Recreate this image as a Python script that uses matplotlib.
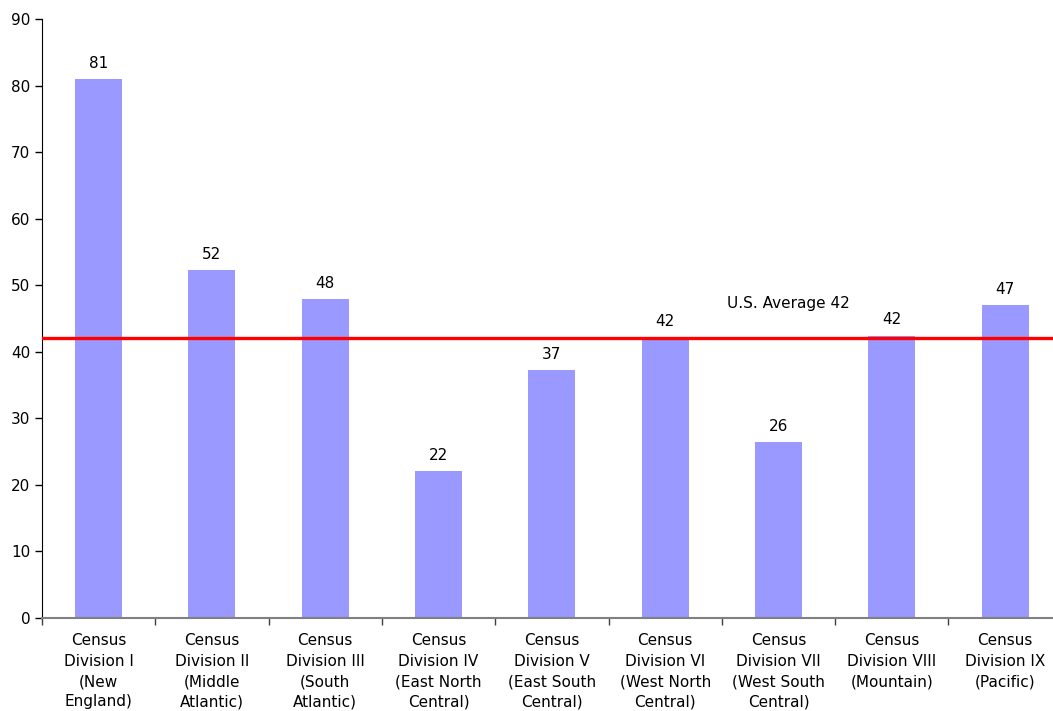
import numpy as np
import matplotlib.pyplot as plt

categories = [
    "Census\nDivision I\n(New\nEngland)",
    "Census\nDivision II\n(Middle\nAtlantic)",
    "Census\nDivision III\n(South\nAtlantic)",
    "Census\nDivision IV\n(East North\nCentral)",
    "Census\nDivision V\n(East South\nCentral)",
    "Census\nDivision VI\n(West North\nCentral)",
    "Census\nDivision VII\n(West South\nCentral)",
    "Census\nDivision VIII\n(Mountain)",
    "Census\nDivision IX\n(Pacific)",
]
values = [81.0, 52.3, 47.9, 22.1, 37.2, 42.2, 26.4, 42.4, 47.0]
value_labels = ["81", "52", "48", "22", "37", "42", "26", "42", "47"]
us_average = 42.1
avg_label = "U.S. Average 42"

plt.rcParams['font.family'] = ['DejaVu Sans']

fig = plt.figure(figsize=(10.53, 7.11), dpi=100)
ax = fig.add_axes([0.0399, 0.1308, 0.9601, 0.8425])

x = np.arange(len(categories))
ax.bar(x, values, width=0.415, color='#9999ff', zorder=2)
ax.axhline(us_average, color='#ff0000', linewidth=2.4, zorder=3)

for xi, v, lab in zip(x, values, value_labels):
    ax.annotate(lab, (xi, v), xytext=(0, 6), textcoords='offset points',
                ha='center', va='bottom', fontsize=11, color='black')

ax.text(5.546, 47.3, avg_label, ha='left', va='center', fontsize=11)

ax.set_xlim(-0.5, 8.423)
ax.set_ylim(0, 90)
ax.set_yticks(np.arange(0, 91, 10))
ax.tick_params(axis='y', labelsize=11, direction='out', length=5, width=1)

ax.set_xticks(x)
ax.set_xticklabels(categories, fontsize=11, linespacing=1.45)
ax.tick_params(axis='x', length=0, pad=11)
ax.set_xticks(np.arange(-0.5, 8.5, 1), minor=True)
ax.tick_params(axis='x', which='minor', direction='out', length=5, width=1, color='#404040')

for s in ['top', 'right']:
    ax.spines[s].set_visible(False)
ax.spines['left'].set_color('black')
ax.spines['bottom'].set_color('#808080')
ax.spines['bottom'].set_linewidth(1.5)

fig.savefig('out.png', dpi=100)
